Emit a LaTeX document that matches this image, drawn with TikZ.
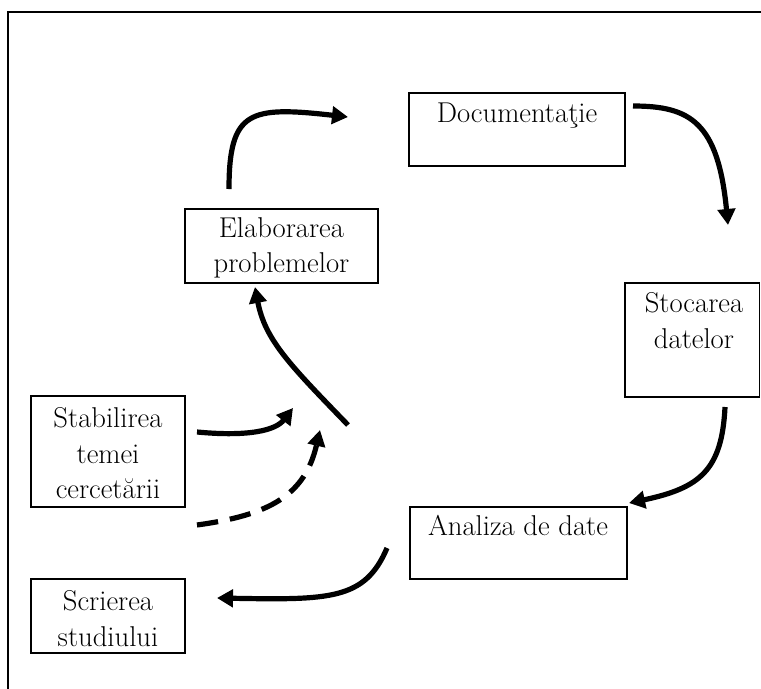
\documentclass[tikz,border=0pt]{standalone}
\usepackage{fontspec}
\usetikzlibrary{arrows.meta,fit}
\begin{document}
\begin{tikzpicture}[x=0.75pt,y=-0.75pt,
  frame/.style={line width=1.5pt},
  box/.style={draw, line width=1.3pt, inner sep=0pt, rectangle},
  txt/.style={inner sep=0pt, align=center, font=\fontsize{21.5}{26.8}\selectfont},
  flow/.style={line width=3.9pt, -{Triangle[length=12pt,width=13pt]}},
  dflow/.style={flow, dash pattern=on 16pt off 9pt}]
\useasboundingbox (0,0) rectangle (761,689);
% outer frame
\coordinate (fbl) at (7.5,689);
\coordinate (ftl) at (7.5,12);
\coordinate (ftr) at (761,12);
\draw[frame] (fbl) -- (ftl) -- (ftr);
% boxes
\node[box, fit={(409,93) (625,166)}] (doc) {};
\node[txt, anchor=north] (doct) at (517,103) {Documentaţie};
\node[box, fit={(185,209) (378,283)}] (elab) {};
\node[txt, anchor=north] (elabt) at (281.5,217) {Elaborarea\\problemelor};
\node[box, fit={(625,283) (759.5,397)}] (stoc) {};
\node[txt, anchor=north] (stoct) at (694,292) {Stocarea\\datelor};
\node[box, fit={(410,507) (627,579)}] (anal) {};
\node[txt, anchor=north] (analt) at (518,515) {Analiza de date};
\node[box, fit={(31,396) (185,507)}] (stab) {};
\node[txt, anchor=north] (stabt) at (108,407) {Stabilirea\\temei\\cercetării};
\node[box, fit={(31,579) (185,653)}] (scr) {};
\node[txt, anchor=north] (scrt) at (108,590) {Scrierea\\studiului};
% connector ends
\coordinate (a1s) at (229,189);  \coordinate (a1e) at (348,117);
\coordinate (a2s) at (633,106);  \coordinate (a2e) at (728,225);
\coordinate (a3s) at (725,407);  \coordinate (a3e) at (629,503);
\coordinate (a4s) at (387,548);  \coordinate (a4e) at (217,598);
\coordinate (a5s) at (197,432);  \coordinate (a5e) at (293,408);
\coordinate (a6s) at (197,525);  \coordinate (a6e) at (320,430);
\coordinate (a7s) at (348,425);  \coordinate (a7e) at (255,287);
% connectors
\draw[flow] (a1s) .. controls (229,110) and (250,106) .. (a1e);
\draw[flow] (a2s) .. controls (690,106) and (718,122) .. (a2e);
\draw[flow] (a3s) .. controls (722,470) and (700,488) .. (a3e);
\draw[flow] (a4s) .. controls (365,600) and (330,600) .. (a4e);
\draw[flow] (a5s) .. controls (250,437) and (276,430) .. (a5e);
\draw[dflow] (a6s) .. controls (270,515) and (305,495) .. (a6e);
\draw[flow] (a7s) .. controls (290,365) and (265,340) .. (a7e);
\end{tikzpicture}
\end{document}
